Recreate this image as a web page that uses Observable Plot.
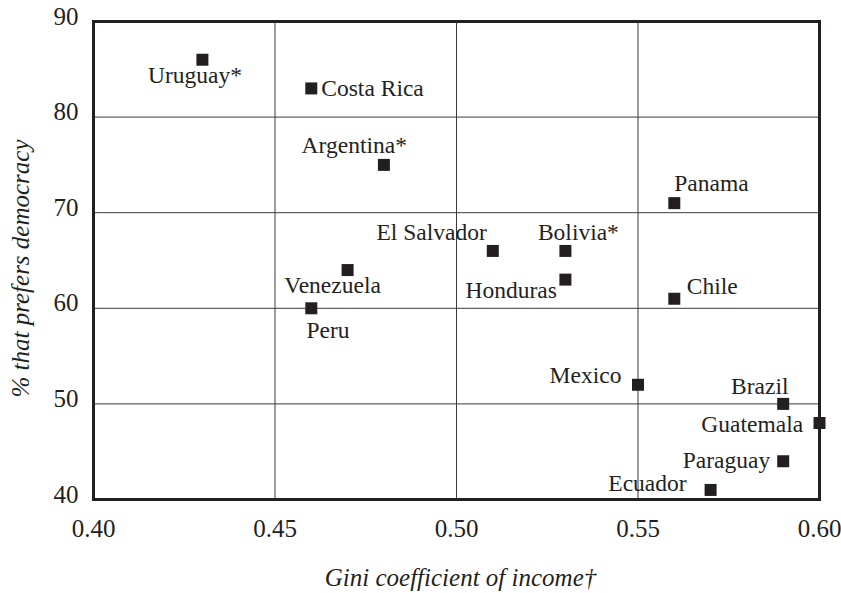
<!DOCTYPE html>
<html>
<head>
<meta charset="utf-8">
<script src="https://cdn.jsdelivr.net/npm/d3@7"></script>
<script src="https://cdn.jsdelivr.net/npm/@observablehq/plot@0.6"></script>
<style>
  html, body { margin: 0; padding: 0; background: #ffffff; }
  #chart svg { display: block; background: #ffffff; }
  #chart svg, #chart svg text { font-family: "Liberation Serif", "DejaVu Serif", serif !important; }
</style>
</head>
<body>
<div id="chart"></div>
<script>
// ---- Data ----
const countries = ["Uruguay*", "Costa Rica", "Argentina*", "Panama", "El Salvador", "Bolivia*", "Venezuela", "Honduras", "Chile", "Peru", "Mexico", "Brazil", "Guatemala", "Paraguay", "Ecuador"];
const gini      = [0.43, 0.46, 0.48, 0.56, 0.51, 0.53, 0.47, 0.53, 0.56, 0.46, 0.55, 0.59, 0.60, 0.59, 0.57];
const democracy = [86, 83, 75, 71, 66, 66, 64, 63, 61, 60, 52, 50, 48, 44, 41];

const xTicks = [0.40, 0.45, 0.50, 0.55, 0.60];
const yTicks = [40, 50, 60, 70, 80, 90];
const xTitle = "Gini coefficient of income\u2020";
const yTitle = "% that prefers democracy";

// ---- Label placement (layout only): [textAnchor, dx, baseline dy] ----
const labelPlacement = {
  "Uruguay*":   ["middle", -7.5, 23],
  "Costa Rica": ["start", 10, 7.5],
  "Argentina*": ["end", 23, -12],
  "Panama":     ["start", 0, -12.5],
  "El Salvador":["end", -6, -10.5],
  "Bolivia*":   ["middle", 13, -10.5],
  "Venezuela":  ["middle", -15, 22.5],
  "Honduras":   ["end", -8.5, 18.3],
  "Chile":      ["start", 12.5, -5],
  "Peru":       ["middle", 16.7, 30],
  "Mexico":     ["end", -16.6, -1.6],
  "Brazil":     ["end", 5.3, -10],
  "Guatemala":  ["end", -16.4, 9],
  "Paraguay":   ["end", -13, 6.3],
  "Ecuador":    ["end", -24, 1.5]
};

const ink = "#231f20";
const serif = "Liberation Serif";
const idx = countries.map((_, i) => i);

const labelMarks = idx.map(i => {
  const [anchor, dx, dy] = labelPlacement[countries[i]];
  return Plot.text([i], {
    x: j => gini[j], y: j => democracy[j], text: j => countries[j],
    textAnchor: anchor, lineAnchor: "bottom", dx, dy,
    fill: ink, fontSize: 23.5, fontFamily: serif
  });
});

const chart = Plot.plot({
  width: 841,
  height: 593,
  marginLeft: 93,
  marginRight: 22,
  marginTop: 21,
  marginBottom: 94,
  x: { domain: [0.40, 0.60] },
  y: { domain: [40, 90] },
  marks: [
    Plot.gridX(xTicks.slice(1, -1), { stroke: "#3a3a3a", strokeOpacity: 1, strokeWidth: 1 }),
    Plot.gridY(yTicks.slice(1, -1), { stroke: "#3a3a3a", strokeOpacity: 1, strokeWidth: 1 }),
    Plot.frame({ stroke: ink, strokeWidth: 3 }),
    Plot.axisX(xTicks, { tickSize: 0, tickPadding: 20, tickFormat: d3.format(".2f"), fontSize: 25, fontFamily: serif, fill: ink, label: null }),
    Plot.axisY(yTicks, { tickSize: 0, tickPadding: 15, dy: -5, fontSize: 25, fontFamily: serif, fill: ink, label: null }),
    Plot.dot(idx, { x: i => gini[i], y: i => democracy[i], symbol: "square", r: 6.77, fill: ink, stroke: null }),
    ...labelMarks,
    Plot.text([xTitle], { frameAnchor: "bottom", textAnchor: "middle", lineAnchor: "bottom", dy: 86, dx: 4, fontStyle: "italic", fontSize: 25, fontFamily: serif, fill: ink }),
    Plot.text([yTitle], { frameAnchor: "left", textAnchor: "middle", rotate: -90, dx: -65, dy: 8, fontStyle: "italic", fontSize: 25, fontFamily: serif, fill: ink, lineAnchor: "bottom" })
  ]
});

document.getElementById("chart").appendChild(chart);
</script>
</body>
</html>
